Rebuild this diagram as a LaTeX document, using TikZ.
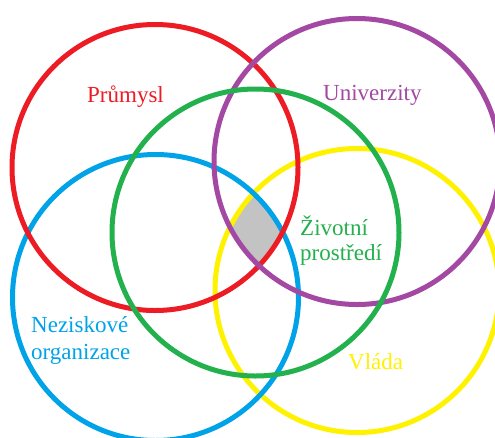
\documentclass[tikz,border=0pt]{standalone}
\usepackage{fontspec}
\setmainfont{Liberation Serif}
\newfontfamily\tnrfont{Liberation Serif}
\definecolor{cred}{HTML}{ED1C24}
\definecolor{cpurple}{HTML}{A349A4}
\definecolor{cgreen}{HTML}{22B14C}
\definecolor{cblue}{HTML}{00A2E8}
\definecolor{cyellow}{HTML}{FFF200}
\definecolor{cgray}{HTML}{C3C3C3}
\tikzset{
  ring/.style={line width=5pt},
  lbl/.style={inner sep=0pt, anchor=base west, font=\tnrfont\fontsize{23}{25}\selectfont},
}
\begin{document}
\begin{tikzpicture}[x=1pt,y=-1pt]
\useasboundingbox (0,0) rectangle (495,437);
\clip (0,0) rectangle (495,437);
\fill[white] (0,0) rectangle (495,437);
% gray intersection
\begin{scope}
  \clip (155,167.5) circle (143);
  \clip (357,161.5) circle (143);
  \clip (155.5,297.5) circle (143);
  \clip (357,290.5) circle (143);
  \fill[cgray] (0,0) rectangle (495,437);
\end{scope}
\draw[ring, cyellow] (357,290.5) circle (142);
\draw[ring, cblue] (155.5,297.5) circle (143);
\draw[ring, cred] (155,167.5) circle (143);
\draw[ring, cpurple] (357,161.5) circle (143);
\draw[ring, cgreen] (255.5,232.5) circle (143.5);
\node[lbl, text=cred] (prumysl) at (87,102) {Průmysl};
\node[lbl, text=cpurple] (univ) at (323,100) {Univerzity};
\node[lbl, text=cgreen] (zivot1) at (300,235) {Životní};
\node[lbl, text=cgreen] (zivot2) at (300,260) {prostředí};
\node[lbl, text=cblue] (nez1) at (31,332) {Neziskové};
\node[lbl, text=cblue] (nez2) at (31,359) {organizace};
\node[lbl, text=cyellow] (vlada) at (348,369) {Vláda};
\end{tikzpicture}
\end{document}
